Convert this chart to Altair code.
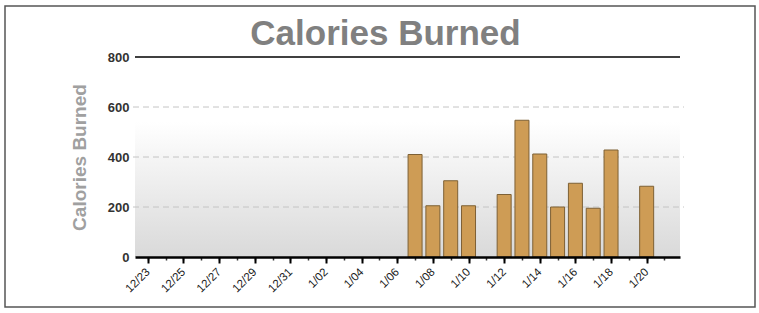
import altair as alt
import pandas as pd

# ---- data ----
dates = ["2013-01-07", "2013-01-08", "2013-01-09", "2013-01-10", "2013-01-12",
         "2013-01-13", "2013-01-14", "2013-01-15", "2013-01-16", "2013-01-17",
         "2013-01-18", "2013-01-20"]
calories = [410, 205, 305, 205, 250, 547, 412, 200, 295, 195, 428, 283]

# tick days (year, month, day)
label_days = [(2012, 12, 23), (2012, 12, 25), (2012, 12, 27), (2012, 12, 29), (2012, 12, 31),
              (2013, 1, 2), (2013, 1, 4), (2013, 1, 6), (2013, 1, 8), (2013, 1, 10),
              (2013, 1, 12), (2013, 1, 14), (2013, 1, 16), (2013, 1, 18), (2013, 1, 20)]
minor_days = [(2012, 12, d) for d in range(23, 32)] + [(2013, 1, d) for d in range(1, 22)]
y_ticks = [0, 200, 400, 600, 800]
grid_values = [200, 400, 600]

W, H = 545, 200
FONT = "Liberation Sans"

df = pd.DataFrame({"date": [d + "T00:00:00" for d in dates], "calories": calories})
minor_df = pd.DataFrame({"date": ["%04d-%02d-%02dT00:00:00" % t for t in minor_days]})
grid_df = pd.DataFrame({"v": grid_values})

def dt(t, h=0, mi=0):
    return alt.DateTime(year=t[0], month=t[1], date=t[2], hours=h, minutes=mi)

x_scale = alt.Scale(domain=[dt((2012, 12, 22), 13, 26), dt((2013, 1, 21), 14, 10)])
y_scale = alt.Scale(domain=[0, 800])

# background gradient
bg = alt.Chart(pd.DataFrame({"a": [0]})).mark_rect(
    color=alt.Gradient(gradient="linear",
                       stops=[alt.GradientStop(color="#ffffff", offset=0),
                              alt.GradientStop(color="#d9d9d9", offset=1)],
                       x1=0, x2=0, y1=0, y2=1)
).encode(
    x=alt.value(0), x2=alt.value(W),
    y=alt.YDatum(540, axis=None, scale=y_scale),
    y2=alt.datum(0),
)

grid = alt.Chart(grid_df).mark_rule(color="#c4c4c4", strokeDash=[6, 4], strokeWidth=1).encode(
    y=alt.Y("v:Q", axis=None, scale=y_scale),
    x=alt.value(-2), x2=alt.value(W + 4),
)

bars = alt.Chart(df).mark_bar(size=14, color="#CE9C55", stroke="#7D6035", strokeWidth=1).encode(
    x=alt.X("date:T", scale=x_scale, title=None,
            axis=alt.Axis(values=[dt(t) for t in label_days], format="%-m/%d",
                          labelAngle=-45, labelAlign="right", labelBaseline="middle",
                          labelFont=FONT, labelFontSize=11.5,
                          labelColor="#1a1a1a", labelPadding=7,
                          tickSize=6, tickWidth=2, tickColor="#000",
                          domainColor="#000", domainWidth=2.5,
                          grid=False, orient="bottom", zindex=2)),
    y=alt.Y("calories:Q", scale=y_scale,
            title="Calories Burned",
            axis=alt.Axis(values=y_ticks, labelFont=FONT, labelFontSize=13,
                          labelFontWeight="bold", labelColor="#333", labelPadding=6,
                          ticks=False, domain=False, grid=False,
                          titleFont=FONT, titleFontSize=19, titleFontWeight="bold",
                          titleColor="#a0a0a0", titlePadding=18, orient="left")),
)

minor = alt.Chart(minor_df).mark_point(opacity=0).encode(
    x=alt.X("date:T", scale=x_scale, title=None,
            axis=alt.Axis(values=[dt(t) for t in minor_days], labels=False,
                          domain=False, grid=False, tickSize=3, tickWidth=1.5,
                          tickColor="#333", orient="bottom", zindex=1)),
)

top_rule = alt.Chart(pd.DataFrame({"a": [0]})).mark_rule(color="#000", strokeWidth=1.5).encode(
    y=alt.YDatum(800, axis=None),
    x=alt.value(0), x2=alt.value(W),
)

frame = alt.Chart(pd.DataFrame({"a": [0]})).mark_rect(
    fillOpacity=0, stroke="#555", strokeWidth=1.5
).encode(
    x=alt.value(-130), x2=alt.value(620), y=alt.value(-51), y2=alt.value(250)
)

chart = alt.layer(bg, grid, bars, minor, top_rule, frame).resolve_axis(
    x="independent", y="independent"
).properties(
    width=W, height=H,
    title=alt.TitleParams("Calories Burned", font=FONT, fontSize=35, fontWeight="bold",
                          color="#808080", anchor="middle", offset=0, dy=75, dx=-22,
                          baseline="alphabetic", frame="group"),
    autosize=alt.AutoSizeParams(type="none"),
    padding={"left": 135, "top": 57, "right": 79, "bottom": 56},
    background="white",
).configure_view(stroke=None)

chart.save("out.html", embed_options={"renderer": "svg", "actions": False})
